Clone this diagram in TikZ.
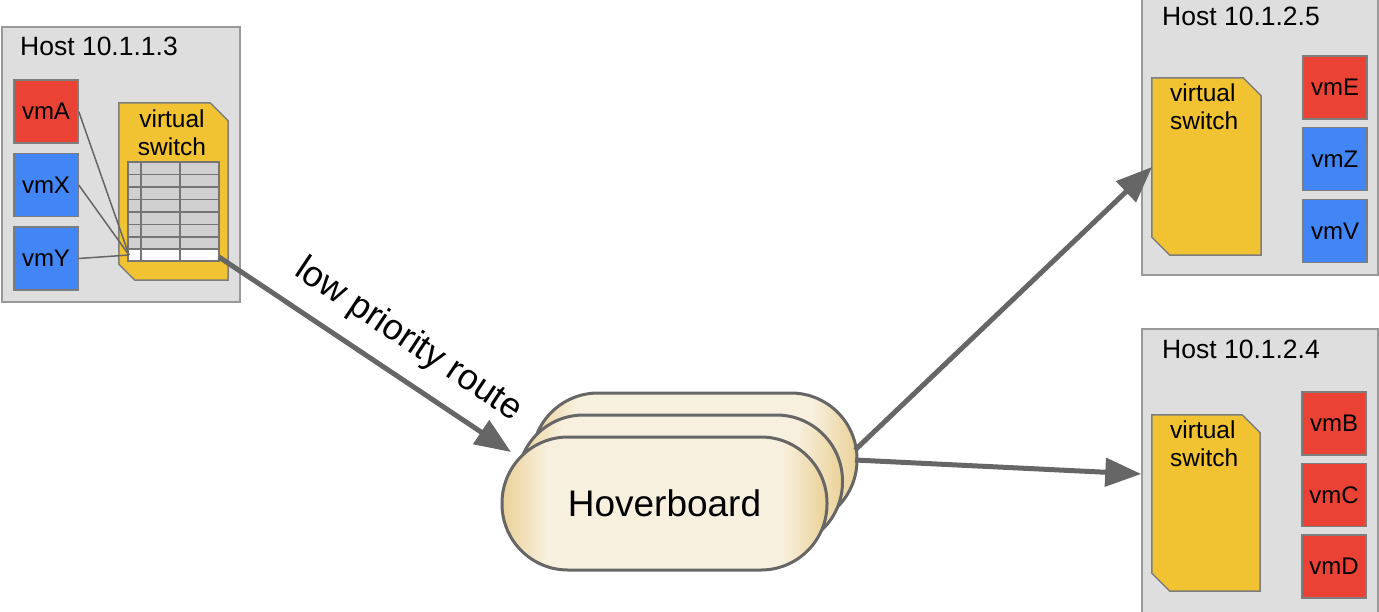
\documentclass[tikz,border=0pt]{standalone}
\usepackage{fontspec}
\setmainfont{Liberation Sans}
\usetikzlibrary{arrows.meta,calc}
\definecolor{hostfill}{HTML}{DEDEDE}
\definecolor{hostline}{HTML}{999999}
\definecolor{vmred}{HTML}{EA4335}
\definecolor{vmblue}{HTML}{4285F4}
\definecolor{swyellow}{HTML}{F1C232}
\definecolor{edgegray}{HTML}{666666}
\definecolor{tblgray}{HTML}{D0D0D0}
\definecolor{hbtan}{HTML}{EAD197}
\definecolor{hbcream}{HTML}{F8F0DF}
\pgfdeclarehorizontalshading{hbshade}{100bp}{color(0bp)=(hbtan); color(25bp)=(hbtan); color(32bp)=(hbcream); color(68bp)=(hbcream); color(75bp)=(hbtan); color(100bp)=(hbtan)}
\begin{document}
\begin{tikzpicture}[x=1pt,y=-1pt,
  host/.style={draw=hostline,fill=hostfill,line width=1.5pt,inner sep=0pt},
  vmbox/.style={draw=edgegray!85,line width=1.5pt,inner sep=0pt,minimum width=64pt,minimum height=63pt,font=\fontsize{24}{28}\selectfont},
  vmr/.style={vmbox,fill=vmred},
  vmb/.style={vmbox,fill=vmblue},
  swbox/.style={inner sep=0pt,draw=none},
  swshape/.style={fill=swyellow,draw=edgegray!85,line width=1.5pt},
  swtext/.style={inner sep=0pt,font=\fontsize{24.5}{27.5}\selectfont},
  title/.style={inner sep=0pt,anchor=base west,font=\fontsize{26.5}{30}\selectfont},
  hb/.style={draw=edgegray,line width=3pt,rounded corners=66pt,minimum width=325pt,minimum height=133pt,inner sep=0pt,
    shading=hbshade},
  conn/.style={draw=edgegray,line width=1.5pt},
  bigarrow/.style={draw=edgegray,line width=5pt,-{Triangle[length=36pt,width=28pt]}}
]
\useasboundingbox (0,0) rectangle (1379,611);

% ---------------- Host 10.1.1.3 ----------------
\node[host,minimum width=238pt,minimum height=275pt] (h1) at (121,164.5) {};
\node[title] (h1t) at (20,55) {Host 10.1.1.3};
\node[vmr] (vmA) at (46,111.5) {vmA};
\node[vmb] (vmX) at (46,185) {vmX};
\node[vmb] (vmY) at (46,258.5) {vmY};
\node[swbox,minimum width=109pt,minimum height=177pt] (sw1) at (173.5,191.5) {};
\draw[swshape] (sw1.north west) -- ($(sw1.north east)+(-18,0)$) -- ($(sw1.north east)+(0,18)$)
  -- (sw1.south east) -- ($(sw1.south west)+(16,0)$) -- ($(sw1.south west)+(0,-16)$) -- cycle;
\node[swtext,anchor=north,align=center] (sw1t) at (172,110) {virtual\\switch};
% table
\fill[tblgray] (128,162) rectangle (219,249);
\fill[white] (128,249) rectangle (219,261);
\foreach \yy in {174.5,187,199.5,212,224.5,237,249}
  \draw[edgegray!90,line width=1.2pt] (128,\yy) -- (219,\yy);
\draw[edgegray!90,line width=1.2pt] (141,162) -- (141,261) (180,162) -- (180,261);
\draw[edgegray!90,line width=1.5pt] (128,162) rectangle (219,261);
\coordinate (tblL) at (129,255);
\coordinate (tblR) at (219,257);
\draw[conn] (vmA.east) -- (tblL);
\draw[conn] (vmX.east) -- (tblL);
\draw[conn] (vmY.east) -- (tblL);

% ---------------- Host 10.1.2.5 ----------------
\node[host,minimum width=236pt,minimum height=279pt] (h2) at (1260,135.5) {};
\node[title] (h2t) at (1162,25) {Host 10.1.2.5};
\node[swbox,minimum width=109pt,minimum height=177pt] (sw2) at (1206.5,166.5) {};
\draw[swshape] (sw2.north west) -- ($(sw2.north east)+(-18,0)$) -- ($(sw2.north east)+(0,18)$)
  -- (sw2.south east) -- ($(sw2.south west)+(18,0)$) -- ($(sw2.south west)+(0,-18)$) -- cycle;
\node[swtext,anchor=north west,align=left] (sw2t) at (1170,84) {virtual\\switch};
\node[vmr] (vmE) at (1335,87.5) {vmE};
\node[vmb] (vmZ) at (1335,159) {vmZ};
\node[vmb] (vmV) at (1335,231) {vmV};

% ---------------- Host 10.1.2.4 ----------------
\node[host,minimum width=236pt,minimum height=290pt] (h3) at (1260,474) {};
\node[title] (h3t) at (1162,358) {Host 10.1.2.4};
\node[swbox,minimum width=108pt,minimum height=176pt] (sw3) at (1206,503) {};
\draw[swshape] (sw3.north west) -- ($(sw3.north east)+(-18,0)$) -- ($(sw3.north east)+(0,18)$)
  -- (sw3.south east) -- ($(sw3.south west)+(18,0)$) -- ($(sw3.south west)+(0,-18)$) -- cycle;
\node[swtext,anchor=north west,align=left] (sw3t) at (1170,421) {virtual\\switch};
\node[vmr] (vmB) at (1334,423.5) {vmB};
\node[vmr] (vmC) at (1334,495) {vmC};
\node[vmr] (vmD) at (1334,566.5) {vmD};

% ---------------- Hoverboard ----------------
\node[hb] (hb3) at (694.5,459.5) {};
\node[hb] (hb2) at (680,481.5) {};
\node[hb,font=\fontsize{37}{40}\selectfont] (hb1) at (664.5,503.5) {Hoverboard};

% ---------------- Connectors ----------------
\coordinate (lpEnd) at (511,452);
\draw[bigarrow] (tblR) -- node[pos=0.58,sloped,above=13pt,font=\fontsize{36}{40}\selectfont,text=black] (lpLabel) {low priority route} (lpEnd);
\coordinate (up0) at (855,450);
\coordinate (lo0) at (855,460);
\coordinate (upEnd) at (1152,167);
\draw[bigarrow] (up0) -- (upEnd);
\draw[bigarrow] (lo0) -- (h3.west);
\end{tikzpicture}
\end{document}
